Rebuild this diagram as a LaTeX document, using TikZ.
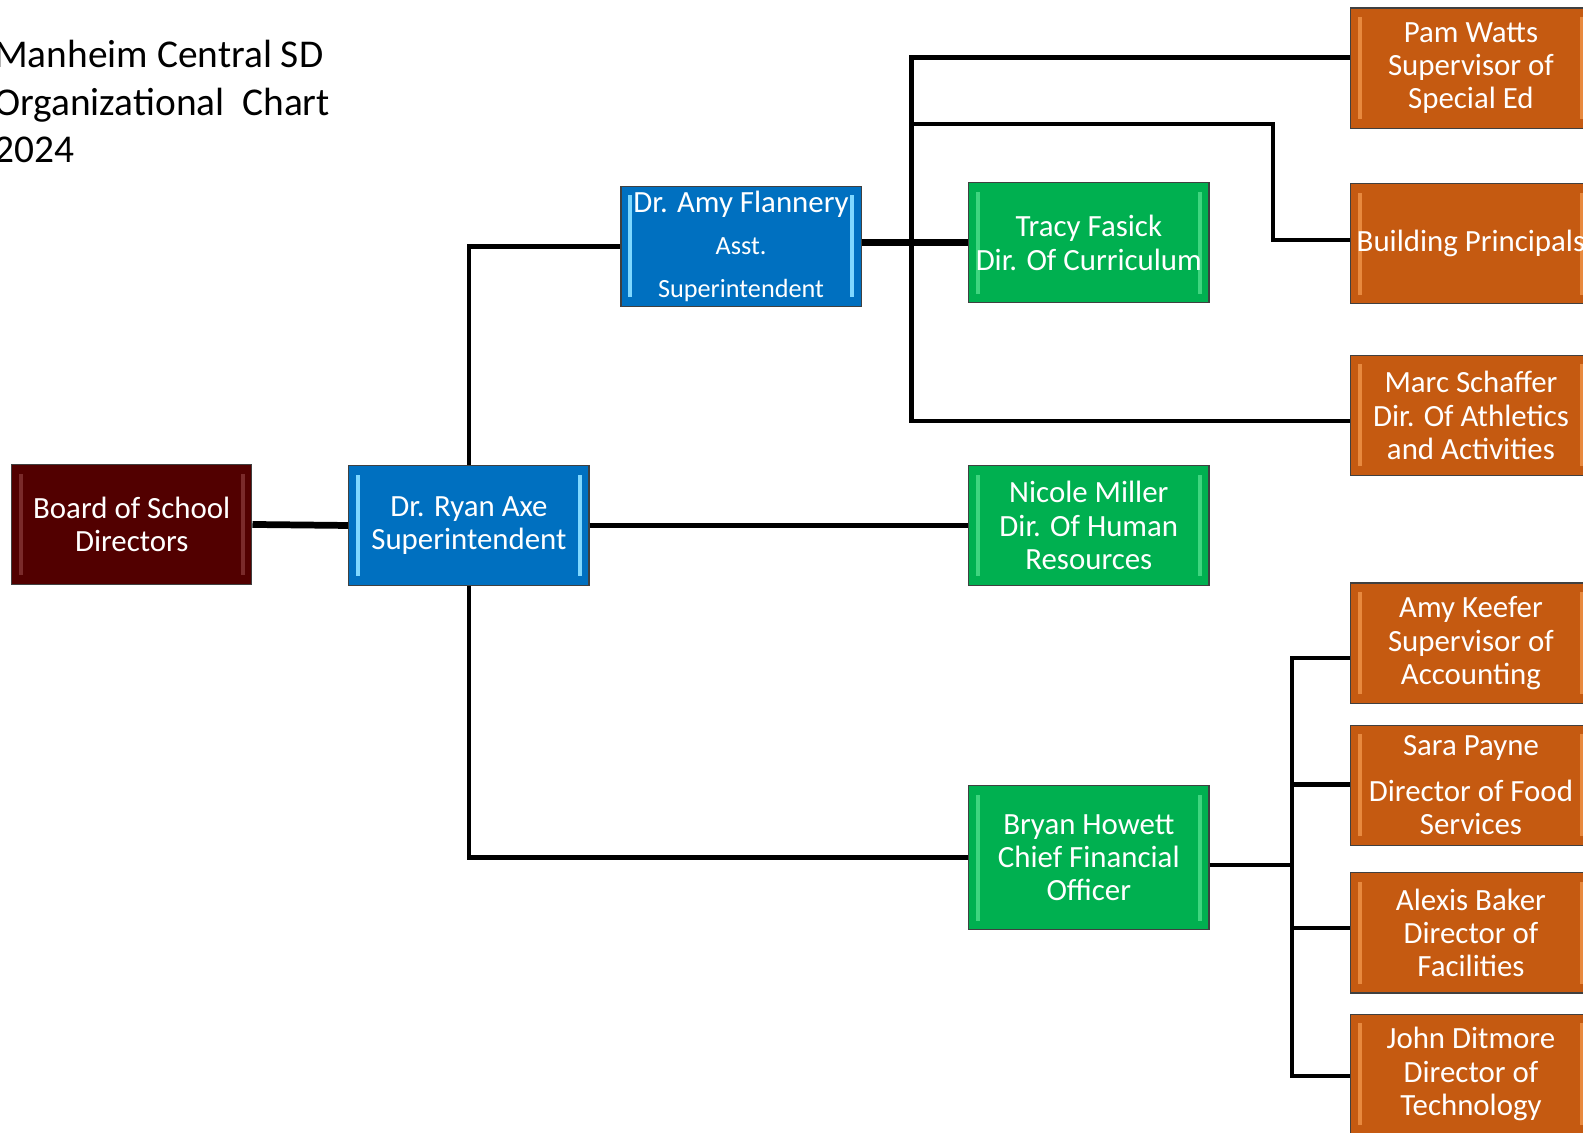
\documentclass[tikz,border=0pt]{standalone}
\usepackage{fontspec}
\setmainfont{Carlito}
\usetikzlibrary{calc}
\definecolor{cBoard}{HTML}{520000}
\definecolor{cBoardL}{HTML}{7A2A2A}
\definecolor{cBlue}{HTML}{0070C0}
\definecolor{cBlueL}{HTML}{7FD8FF}
\definecolor{cGreen}{HTML}{00B050}
\definecolor{cGreenL}{HTML}{3FD57F}
\definecolor{cOrange}{HTML}{C55A11}
\definecolor{cOrangeL}{HTML}{E8893E}
\tikzset{
  orgbox/.style={draw=black!75, line width=0.7pt, minimum width=4.76cm,
    minimum height=2.38cm, inner sep=0pt, align=center, text=white,
    font=\fontsize{17.4}{18.8}\selectfont},
  bevel/.style={path picture={
    \fill[#1] ($(path picture bounding box.north west)+(7,9)$) rectangle ($(path picture bounding box.south west)+(11,-9)$);
    \fill[#1] ($(path picture bounding box.north east)+(-11,9)$) rectangle ($(path picture bounding box.south east)+(-7,-9)$);
  }},
  boardbox/.style={orgbox, fill=cBoard, bevel=cBoardL},
  bluebox/.style={orgbox, fill=cBlue, bevel=cBlueL},
  greenbox/.style={orgbox, fill=cGreen, bevel=cGreenL},
  orangebox/.style={orgbox, fill=cOrange, bevel=cOrangeL},
  conn/.style={line width=2.5pt, black},
  connthick/.style={line width=3.8pt, black},
  titletext/.style={inner sep=0pt, anchor=base west, text=black,
    font=\fontsize{22.2}{26.7}\selectfont}
}
\begin{document}
\begin{tikzpicture}[x=0.02cm,y=-0.02cm]
\useasboundingbox (0,0) rectangle (1568,1122);
\clip (0,0) rectangle (1568,1122);
\fill[white] (0,0) rectangle (1568,1122);

% title
\node[titletext] (t1) at (-6,67) {Manheim Central SD};
\node[titletext] (t2) at (-6,114) {Organizational\ \ Chart};
\node[titletext] (t3) at (-6,161) {2024};

% boxes
\node[boardbox] (board) at (130.5,519.5) {Board of School\\Directors};
\node[bluebox] (ryan) at (464.5,520.5) {Dr. Ryan Axe\\Superintendent};
\node[bluebox] (amy) at (734,244) {Dr. Amy Flannery\\[5pt]{\fontsize{14.8}{15}\selectfont Asst.}\\[5pt]{\fontsize{14.8}{15}\selectfont Superintendent}};
\node[greenbox] (tracy) at (1078.5,240.5) {Tracy Fasick\\Dir. Of Curriculum};
\node[greenbox] (nicole) at (1078.5,520.5) {Nicole Miller\\Dir. Of Human\\Resources};
\node[greenbox, minimum height=2.86cm] (bryan) at (1078.5,849.5) {Bryan Howett\\Chief Financial\\Officer};
\node[orangebox] (pam) at (1457,67.5) {Pam Watts\\Supervisor of\\Special Ed};
\node[orangebox] (bp) at (1457,241.5) {Building Principals};
\node[orangebox] (marc) at (1457,411.5) {Marc Schaffer\\Dir. Of Athletics\\and Activities};
\node[orangebox] (keefer) at (1457,637) {Amy Keefer\\Supervisor of\\Accounting};
\node[orangebox] (sara) at (1457,778) {Sara Payne\\[6.8pt]Director of Food\\Services};
\node[orangebox] (alexis) at (1457,924) {Alexis Baker\\Director of\\Facilities};
\node[orangebox] (john) at (1457,1064) {John Ditmore\\Director of\\Technology};

% connectors
\draw[connthick] (board.east) -- (ryan.west);
\draw[conn] (ryan.north) |- (amy.west);
\draw[conn] (ryan.east) -- (nicole.west);
\draw[conn] (ryan.south) |- (bryan.west);
\draw[connthick] (tracy.west -| amy.east) -- (tracy.west);

\coordinate (trtop) at (903,57);
\coordinate (trbot) at (903,417);
\draw[conn] (trtop -| pam.west) -- (trtop) -- (trbot) -- (trbot -| marc.west);
\coordinate (bpa) at (903,123);
\coordinate (bpj) at (1261,238);
\draw[conn] (bpa) -| (bpj) -- (bpj -| bp.west);

\coordinate (fj) at (1280,857);
\coordinate (k1) at (1280,652);
\coordinate (s1) at (1280,777);
\coordinate (a1) at (1280,919);
\coordinate (j1) at (1280,1066);
\draw[conn] (fj -| bryan.east) -- (fj);
\draw[conn] (k1 -| keefer.west) -- (k1) -- (j1) -- (j1 -| john.west);
\draw[conn] (s1) -- (s1 -| sara.west);
\draw[conn] (a1) -- (a1 -| alexis.west);
\end{tikzpicture}
\end{document}
